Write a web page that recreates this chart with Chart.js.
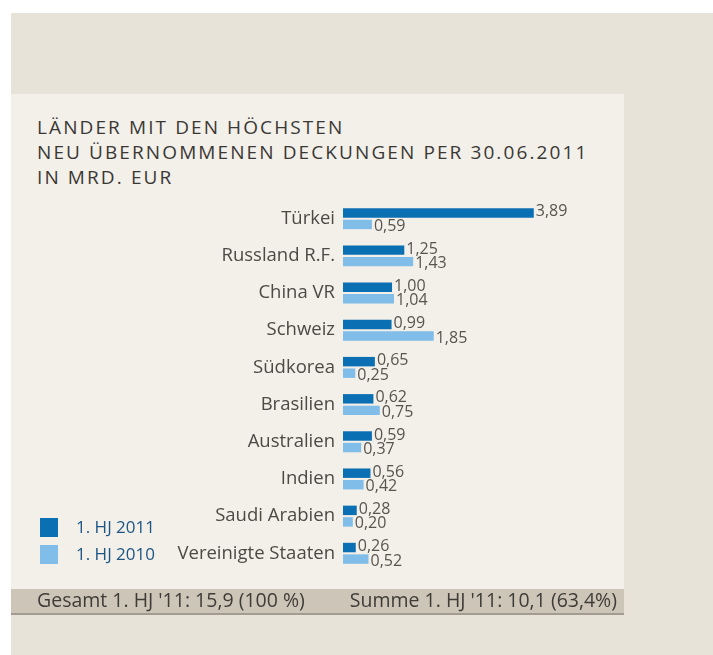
<!DOCTYPE html>
<html>
<head>
<meta charset="utf-8">
<script src="https://cdn.jsdelivr.net/npm/chart.js@4.4.1/dist/chart.umd.min.js"></script>
<style>
  html, body { margin:0; padding:0; background:#ffffff; width:713px; height:655px; overflow:hidden; }
  body { position:relative; font-family:"Open Sans", "Noto Sans", sans-serif; }
  #outer { position:absolute; left:11px; top:13px; width:702px; height:642px; background:#e8e3d9; }
  #inner { position:absolute; left:11px; top:94px; width:613px; height:495px; background:#f3efe9; }
  #title { position:absolute; left:37px; top:115px; font-size:19px; line-height:25px; color:#3a3835; letter-spacing:2.1px; font-weight:500; white-space:nowrap; }
  #footer { position:absolute; left:11px; top:589px; width:613px; height:24px; background:#cdc5b8; border-bottom:2px solid #a39b8f; }
  #footer span { position:absolute; top:-3px; font-size:19.5px; color:#3f3c38; white-space:nowrap; }
  #legend { position:absolute; left:40px; top:518px; font-size:17px; color:#1d5585; }
  .li { position:relative; height:27px; }
  .sw { position:absolute; left:0; top:0; width:18px; height:19px; }
  .lt { position:absolute; left:36px; top:-3px; white-space:nowrap; }
  #wrap { position:absolute; left:11px; top:181px; width:613px; height:410px; }
</style>
</head>
<body>
<div id="outer"></div>
<div id="inner"></div>
<div id="title">LÄNDER MIT DEN HÖCHSTEN<br>NEU ÜBERNOMMENEN DECKUNGEN PER 30.06.2011<br>IN MRD. EUR</div>
<div id="wrap"><canvas id="c"></canvas></div>
<div id="legend"></div>
<div id="footer"><span id="f1" style="left:26px"></span><span id="f2" style="right:7px"></span></div>
<script>
const categories = ["Türkei", "Russland R.F.", "China VR", "Schweiz", "Südkorea", "Brasilien", "Australien", "Indien", "Saudi Arabien", "Vereinigte Staaten"];
const series2011 = [3.89, 1.25, 1.00, 0.99, 0.65, 0.62, 0.59, 0.56, 0.28, 0.26];
const series2010 = [0.59, 1.43, 1.04, 1.85, 0.25, 0.75, 0.37, 0.42, 0.20, 0.52];
const seriesNames = ["1. HJ 2011", "1. HJ 2010"];
const seriesColors = ["#0b6fb3", "#80bde8"];
const footerLeft = "Gesamt 1. HJ '11: 15,9 (100 %)";
const footerRight = "Summe 1. HJ '11: 10,1 (63,4%)";

document.getElementById('f1').textContent = footerLeft;
document.getElementById('f2').textContent = footerRight;
const leg = document.getElementById('legend');
seriesNames.forEach((n, i) => {
  const d = document.createElement('div'); d.className = 'li';
  d.innerHTML = '<div class="sw" style="background:' + seriesColors[i] + '"></div><div class="lt"></div>';
  d.querySelector('.lt').textContent = n;
  leg.appendChild(d);
});

const fmt = v => v.toFixed(2).replace('.', ',');

const valueLabels = {
  id: 'valueLabels',
  afterDatasetsDraw(chart) {
    const ctx = chart.ctx;
    ctx.save();
    ctx.font = '16px "Open Sans", sans-serif';
    ctx.fillStyle = '#58554f';
    ctx.textAlign = 'left';
    ctx.textBaseline = 'middle';
    chart.data.datasets.forEach((ds, di) => {
      const meta = chart.getDatasetMeta(di);
      meta.data.forEach((bar, i) => {
        const dy = di === 0 ? -1 : 2;
        ctx.fillText(fmt(ds.data[i]), bar.x + 2, bar.y + dy);
      });
    });
    ctx.restore();
  }
};

new Chart(document.getElementById('c'), {
  type: 'bar',
  data: {
    labels: categories,
    datasets: [
      { label: seriesNames[0], data: series2011, backgroundColor: seriesColors[0] },
      { label: seriesNames[1], data: series2010, backgroundColor: seriesColors[1] }
    ]
  },
  options: {
    indexAxis: 'y',
    responsive: true,
    maintainAspectRatio: false,
    animation: false,
    categoryPercentage: 0.62,
    barPercentage: 0.82,
    layout: { padding: 0 },
    plugins: { legend: { display: false }, tooltip: { enabled: false } },
    scales: {
      x: { display: false, min: 0, max: 5.73 },
      y: {
        grid: { display: false, drawTicks: false },
        border: { display: false },
        ticks: { color: '#4d4a45', font: { family: '"Open Sans", sans-serif', size: 18.5 }, padding: 8 },
        afterFit(scale) { scale.width = 332; }
      }
    }
  },
  plugins: [valueLabels]
});
</script>
</body>
</html>
